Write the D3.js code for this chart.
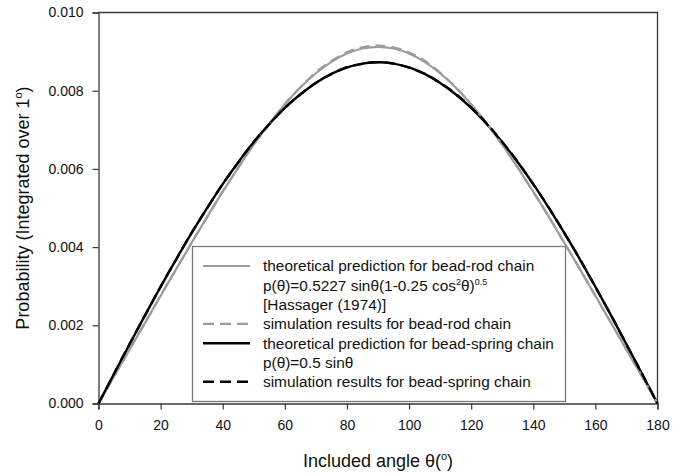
<!DOCTYPE html>
<html>
<head>
<meta charset="utf-8">
<script src="https://cdn.jsdelivr.net/npm/d3@7"></script>
<style>
  html, body { margin: 0; padding: 0; background: #fff; }
  svg { display: block; font-family: Arial, "Liberation Sans", Helvetica, sans-serif; }
</style>
</head>
<body>
<svg id="chart" width="694" height="476"></svg>
<script>
// Included angle (degrees)
const angles = [0, 5, 10, 15, 20, 25, 30, 35, 40, 45, 50, 55, 60, 65, 70, 75, 80, 85, 90,
  95, 100, 105, 110, 115, 120, 125, 130, 135, 140, 145, 150, 155, 160, 165, 170, 175, 180];

// Bead-rod theory, p = 0.5227 sin(t) (1 - 0.25 cos^2 t)^0.5, per degree
const rodTheory = [0, 0.000689, 0.001379, 0.002068, 0.002754, 0.003437, 0.004112, 0.004774, 0.005417,
  0.006034, 0.006618, 0.007159, 0.007650, 0.008081, 0.008446, 0.008738, 0.008950, 0.009079, 0.009123,
  0.009079, 0.008950, 0.008738, 0.008446, 0.008081, 0.007650, 0.007159, 0.006618, 0.006034, 0.005417,
  0.004774, 0.004112, 0.003437, 0.002754, 0.002068, 0.001379, 0.000689, 0];

// Bead-rod simulation
const rodSim = [0, 0.000685, 0.001384, 0.002062, 0.002760, 0.003430, 0.004118, 0.004768, 0.005424,
  0.006028, 0.006625, 0.007152, 0.007662, 0.008090, 0.008470, 0.008762, 0.008980, 0.009110, 0.009152,
  0.009112, 0.008978, 0.008765, 0.008462, 0.008092, 0.007652, 0.007165, 0.006612, 0.006040, 0.005410,
  0.004780, 0.004106, 0.003443, 0.002748, 0.002073, 0.001373, 0.000693, 0];

// Bead-spring theory, p = 0.5 sin(t), per degree
const springTheory = [0, 0.000761, 0.001515, 0.002259, 0.002985, 0.003688, 0.004363, 0.005005, 0.005609,
  0.006171, 0.006685, 0.007148, 0.007558, 0.007909, 0.008200, 0.008429, 0.008594, 0.008693, 0.008727,
  0.008693, 0.008594, 0.008429, 0.008200, 0.007909, 0.007558, 0.007148, 0.006685, 0.006171, 0.005609,
  0.005005, 0.004363, 0.003688, 0.002985, 0.002259, 0.001515, 0.000761, 0];

// Bead-spring simulation
const springSim = [0, 0.000758, 0.001520, 0.002254, 0.002991, 0.003682, 0.004369, 0.004999, 0.005615,
  0.006165, 0.006691, 0.007142, 0.007564, 0.007903, 0.008206, 0.008423, 0.008600, 0.008688, 0.008732,
  0.008697, 0.008589, 0.008434, 0.008205, 0.007922, 0.007570, 0.007162, 0.006690, 0.006180, 0.005603,
  0.005011, 0.004357, 0.003694, 0.002979, 0.002264, 0.001510, 0.000765, 0];

const xTicks = [0, 20, 40, 60, 80, 100, 120, 140, 160, 180];
const yTicks = [0, 0.002, 0.004, 0.006, 0.008, 0.010];

const svg = d3.select("#chart");
const plotLeft = 98.5, plotRight = 657.5, plotTop = 12.5, plotBottom = 403.5;

const x = d3.scaleLinear().domain([0, 180]).range([plotLeft, plotRight]);
const y = d3.scaleLinear().domain([0, 0.010]).range([plotBottom, plotTop]);

const axisColor = "#3a3a3a";
const gray = "#9c9c9c";

// Frame (top and right edges)
svg.append("path")
  .attr("d", `M${plotLeft},${plotTop}H${plotRight}V${plotBottom}`)
  .attr("fill", "none").attr("stroke", axisColor).attr("stroke-width", 1.3);

// Axes
const xAxis = svg.append("g").attr("transform", `translate(0,${plotBottom})`)
  .call(d3.axisBottom(x).tickValues(xTicks).tickSize(6).tickPadding(11).tickFormat(d3.format("d")));
const yAxis = svg.append("g").attr("transform", `translate(${plotLeft},0)`)
  .call(d3.axisLeft(y).tickValues(yTicks).tickSize(6).tickPadding(9).tickFormat(d3.format(".3f")));

[xAxis, yAxis].forEach(g => {
  g.select(".domain").attr("stroke", axisColor).attr("stroke-width", 1.3);
  g.selectAll(".tick line").attr("stroke", axisColor).attr("stroke-width", 1.2);
  g.selectAll(".tick text").attr("fill", "#111").style("font-size", "14px")
    .style("font-family", "Arial, 'Liberation Sans', sans-serif");
});

// Curves
const seriesOf = vals => angles.map((a, i) => [a, vals[i]]);
const line = d3.line().x(d => x(d[0])).y(d => y(d[1])).curve(d3.curveMonotoneX);

const curves = [
  { vals: rodTheory, color: gray, width: 2.2, dash: null },
  { vals: springTheory, color: "#000", width: 2.4, dash: null },
  { vals: rodSim, color: gray, width: 2.2, dash: "10,6" },
  { vals: springSim, color: "#000", width: 2.4, dash: "10,6" }
];
curves.forEach(c => {
  svg.append("path")
    .attr("d", line(seriesOf(c.vals)))
    .attr("fill", "none")
    .attr("stroke", c.color)
    .attr("stroke-width", c.width)
    .attr("stroke-dasharray", c.dash);
});

// Legend
const lg = svg.append("g");
lg.append("rect")
  .attr("x", 192.5).attr("y", 246.5).attr("width", 373).attr("height", 155)
  .attr("fill", "#fff").attr("stroke", "#7a7a7a").attr("stroke-width", 1.3);

const rowY = r => 266 + r * 19.3;
const sampleX0 = 203, sampleX1 = 250, textX = 263;
const samples = [
  { row: 0, color: gray, width: 2.2, dash: null },
  { row: 3, color: gray, width: 2.2, dash: "11,6" },
  { row: 4, color: "#000", width: 2.4, dash: null },
  { row: 6, color: "#000", width: 2.4, dash: "11,6" }
];
samples.forEach(s => {
  lg.append("line")
    .attr("x1", sampleX0).attr("x2", sampleX1)
    .attr("y1", rowY(s.row)).attr("y2", rowY(s.row))
    .attr("stroke", s.color).attr("stroke-width", s.width)
    .attr("stroke-dasharray", s.dash);
});

const legendText = (r) => lg.append("text")
  .attr("x", textX).attr("y", rowY(r) + 5.4)
  .style("font-size", "15.4px").attr("fill", "#111");

legendText(0).text("theoretical prediction for bead-rod chain");
{
  const t = legendText(1);
  t.append("tspan").text("p(θ)=0.5227 sinθ(1-0.25 cos");
  t.append("tspan").attr("dy", -6).style("font-size", "9px").text("2");
  t.append("tspan").attr("dy", 6).text("θ)");
  t.append("tspan").attr("dy", -6).style("font-size", "9px").text("0.5");
}
legendText(2).text("[Hassager (1974)]");
legendText(3).text("simulation results for bead-rod chain");
legendText(4).text("theoretical prediction for bead-spring chain");
legendText(5).text("p(θ)=0.5 sinθ");
legendText(6).text("simulation results for bead-spring chain");

// Axis titles
{
  const t = svg.append("text")
    .attr("x", (plotLeft + plotRight) / 2).attr("y", 467)
    .attr("text-anchor", "middle").style("font-size", "18px").attr("fill", "#111");
  t.append("tspan").text("Included angle θ(");
  t.append("tspan").attr("dy", -7).style("font-size", "11px").text("o");
  t.append("tspan").attr("dy", 7).text(")");
}
{
  const t = svg.append("text")
    .attr("transform", `translate(29,${(plotTop + plotBottom) / 2}) rotate(-90)`)
    .attr("text-anchor", "middle").style("font-size", "18px").attr("fill", "#111");
  t.append("tspan").text("Probability (Integrated over 1");
  t.append("tspan").attr("dy", -7).style("font-size", "11px").text("o");
  t.append("tspan").attr("dy", 7).text(")");
}
</script>
</body>
</html>
